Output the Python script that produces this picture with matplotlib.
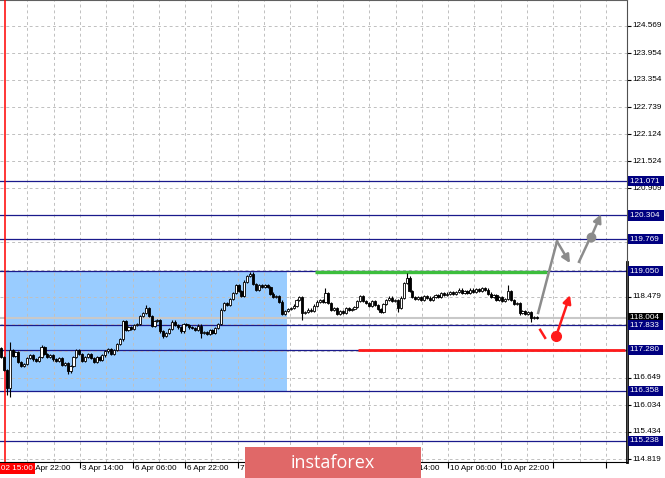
import numpy as np
import matplotlib.pyplot as plt
from matplotlib.patches import Rectangle

# H1 candles (close prices), open = previous close
first_open = 117.32
close = [
    117.12, 116.83, 116.42, 117.28, 117.14, 117.23, 117.01, 116.92, 116.96, 117.10,
    117.16, 117.07, 117.03, 117.12, 117.34, 117.19, 117.12, 117.16, 117.07, 117.03,
    117.10, 116.94, 116.98, 116.80, 116.92, 117.12, 117.28, 117.19, 117.03, 117.12,
    117.19,
    117.10, 117.01, 117.12, 117.05, 117.16, 117.25, 117.30, 117.19, 117.28, 117.41,
    117.52, 117.93, 117.73, 117.79, 117.75, 117.84, 117.86, 118.04, 118.11, 118.22,
    118.04, 117.82, 117.93, 117.95, 117.70, 117.59, 117.66, 117.75, 117.91, 117.84,
    117.79,
    117.70, 117.86, 117.84, 117.79, 117.77, 117.73, 117.82, 117.66, 117.68, 117.64,
    117.73, 117.66, 117.77, 117.86, 118.18, 118.33, 118.29, 118.42, 118.56, 118.74,
    118.60, 118.49, 118.81, 118.94, 118.99, 118.76, 118.63, 118.74, 118.69, 118.74,
    118.69, 118.54,
    118.47, 118.49, 118.36, 118.09, 118.15, 118.20, 118.22, 118.27, 118.40, 118.47,
    118.11, 118.13, 118.18, 118.15, 118.27, 118.36, 118.40, 118.36, 118.56, 118.33,
    118.18, 118.22, 118.09, 118.15, 118.11, 118.22, 118.18, 118.20, 118.24, 118.38,
    118.49,
    118.38, 118.33, 118.27, 118.38, 118.29, 118.20, 118.13, 118.31, 118.40, 118.45,
    118.38, 118.40, 118.22, 118.45, 118.78, 118.90, 118.60, 118.47, 118.42, 118.47,
    118.40, 118.49, 118.45, 118.40, 118.47, 118.51, 118.47, 118.56, 118.51, 118.54,
    118.58,
    118.54, 118.58, 118.63, 118.56, 118.60, 118.56, 118.63, 118.58, 118.65, 118.60,
    118.67, 118.63, 118.54, 118.47, 118.51, 118.40, 118.47, 118.38, 118.42, 118.60,
    118.40, 118.31, 118.33, 118.11, 118.15, 118.09, 118.13, 118.00, 118.02, 118.004,
]
# visible shadows (others are short)
wick_up = {3: 0.18, 14: 0.05, 50: 0.07, 86: 0.04, 112: 0.11, 140: 0.11, 175: 0.14}
wick_dn = {2: 0.16, 3: 0.20, 23: 0.06, 56: 0.05, 69: 0.12, 104: 0.16, 137: 0.10,
           179: 0.05, 183: 0.09}
short_wick = 0.03

grid_prices = [124.569, 123.954, 123.354, 122.739, 122.124, 121.524, 120.909,
               120.309, 119.694, 119.079, 118.479, 117.864, 117.264, 116.649,
               116.034, 115.434, 114.819]
levels = [121.071, 120.304, 119.769, 119.050, 117.833, 117.280, 116.358, 115.238]
last_price = 118.004
time_labels = ['2 Apr 22:00', '3 Apr 14:00', '6 Apr 06:00', '6 Apr 22:00',
               '7 Apr 14:00', '8 Apr 06:00', '8 Apr 22:00', '9 Apr 14:00',
               '10 Apr 06:00', '10 Apr 22:00']
marker_label = '2020.04.02 15:00'
marker_x = 1.38

zone_x = (1.38, 98.7)
zone_y = (116.358, 119.050)
green_seg = (108.4, 188.5, 119.04)
red_seg = (123.2, 215.4, 117.280)

gray_path_x = [185.4, 191.9, 196.4]
gray_path_y = [118.11, 119.72, 119.23]
gray_dash_x = [199.5, 203.0]
gray_dash_y = [119.26, 119.75]
gray_dot = (203.7, 119.82)
gray_target = (207.1, 120.33)
red_dash_x = [186.1, 187.8]
red_dash_y = [117.73, 117.55]
red_dot = (191.6, 117.59)
red_target = (196.4, 118.51)

tfont = 'Liberation Sans'
fs = 5.9

fig = plt.figure(figsize=(6.65, 4.78), dpi=100)
ax = fig.add_axes([0, 16/478, 627/665, 462/478])
ax.set_xlim(-0.345, 216.07)
ax.set_ylim(114.758, 125.147)

# grid
bars_per_grid = 9.078
gridx = [bars_per_grid*(k+1) for k in range(23)]
for gp in grid_prices:
    ax.axhline(gp, color='#C0C0C0', lw=0.7, ls=(0, (3, 3)), zorder=1)
for gx in gridx:
    ax.axvline(gx, color='#C0C0C0', lw=0.7, ls=(0, (3, 3)), zorder=1)

# zone
ax.add_patch(Rectangle((zone_x[0], zone_y[0]), zone_x[1]-zone_x[0], zone_y[1]-zone_y[0],
                       fc='#99CCFF', ec='none', zorder=0.5))

ax.axhline(last_price, color='#C8C8C8', lw=1.5, zorder=1.5)
for lv in levels:
    ax.axhline(lv, color='#1A1A8C', lw=0.9, zorder=2)
ax.axvline(marker_x, color='#FF0000', lw=1.1, zorder=2.6)

ax.hlines(green_seg[2], green_seg[0], green_seg[1], color='#3CBE3C', lw=2.4, zorder=2.5)
ax.hlines(red_seg[2], red_seg[0], red_seg[1], color='#FF1A1A', lw=2.0, zorder=2.5)

# candles
c = np.array(close)
o = np.r_[first_open, c[:-1]]
x = np.arange(len(c))
up = np.array([wick_up.get(i, short_wick) for i in x])
dn = np.array([wick_dn.get(i, short_wick) for i in x])
hi = np.maximum(o, c) + up
lo = np.minimum(o, c) - dn
ax.vlines(x, lo, hi, color='black', lw=0.8, zorder=3)
bull = c >= o
ax.bar(x[bull], (c-o)[bull], bottom=o[bull], width=0.75, color='white',
       edgecolor='black', lw=0.6, zorder=4)
ax.bar(x[~bull], (o-c)[~bull], bottom=c[~bull], width=0.75, color='black',
       edgecolor='black', lw=0.6, zorder=4)

# forecast arrows
ax.plot(gray_path_x[:2], gray_path_y[:2], color='#8C8C8C', lw=1.8, zorder=5)
ax.annotate('', xy=(gray_path_x[2], gray_path_y[2]), xytext=(gray_path_x[1], gray_path_y[1]),
            arrowprops=dict(arrowstyle='-|>', color='#8C8C8C', lw=1.8, mutation_scale=12,
                            shrinkA=0, shrinkB=0), zorder=5)
ax.plot(gray_dash_x, gray_dash_y, color='#8C8C8C', lw=1.8, zorder=5)
ax.plot(*gray_dot, 'o', color='#8C8C8C', ms=6, zorder=5)
ax.annotate('', xy=gray_target, xytext=gray_dot,
            arrowprops=dict(arrowstyle='-|>', color='#8C8C8C', lw=1.8, mutation_scale=12,
                            shrinkA=0, shrinkB=0), zorder=5)
ax.plot(red_dash_x, red_dash_y, color='#FF1A1A', lw=1.8, zorder=5)
ax.plot(*red_dot, 'o', color='#FF1A1A', ms=7, zorder=5)
ax.annotate('', xy=red_target, xytext=red_dot,
            arrowprops=dict(arrowstyle='-|>', color='#FF1A1A', lw=1.8, mutation_scale=12,
                            shrinkA=0, shrinkB=0), zorder=5)

# axes frame and ticks
ax.spines['left'].set_visible(False)
ax.spines['top'].set_color('#606060')
ax.spines['right'].set_color('#505050')
ax.spines['bottom'].set_color('black')
ax.yaxis.tick_right()
ax.set_yticks(grid_prices)
ax.set_xticks(gridx[::2])
ax.tick_params(axis='y', length=3, width=0.8, labelright=False)
ax.tick_params(axis='x', length=4, width=0.8, labelbottom=False)
ytrans = ax.get_yaxis_transform()
ax.plot([1, 1], [119.26, 114.758], transform=ytrans, color='black', lw=2, clip_on=False)

for gp in grid_prices:
    ax.text(1.009, gp, f'{gp:.3f}', transform=ytrans, ha='left', va='center',
            fontsize=fs, family=tfont, clip_on=False, zorder=6)
for lv in levels:
    ax.text(1.005, lv, f'{lv:.3f} ', transform=ytrans, ha='left', va='center',
            fontsize=fs, family=tfont, color='white', clip_on=False, zorder=8,
            bbox=dict(boxstyle='square,pad=0.2', fc='#000080', ec='none'))
ax.text(1.005, last_price, f'{last_price:.3f} ', transform=ytrans, ha='left', va='center',
        fontsize=fs, family=tfont, color='white', clip_on=False, zorder=7,
        bbox=dict(boxstyle='square,pad=0.2', fc='black', ec='none'))

for k, lab in enumerate(time_labels):
    ax.annotate(lab, xy=(gridx[2*k], 0), xycoords=('data', 'axes fraction'),
                xytext=(2, -3), textcoords='offset pixels', ha='left', va='top',
                fontsize=fs, family=tfont, annotation_clip=False)
ax.annotate(marker_label, xy=(marker_x, 0), xycoords=('data', 'axes fraction'),
            xytext=(28, -3), textcoords='offset pixels', ha='right', va='top',
            fontsize=fs, family=tfont, color='white', annotation_clip=False,
            bbox=dict(boxstyle='square,pad=0.2', fc='#FF0000', ec='none'), zorder=9)

# watermark
fig.add_artist(Rectangle((245/665, 0), 176/665, 31/478, transform=fig.transFigure,
                         fc='#E06868', ec='none', zorder=5))
fig.text(333/665, 15/478, 'instaforex', color='white', fontsize=13, family='Open Sans',
         ha='center', va='center', zorder=6)

fig.savefig('out.png', dpi=100)
